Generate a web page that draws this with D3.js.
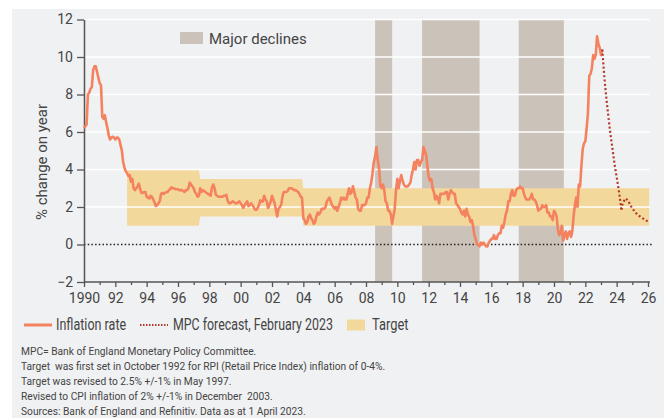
<!DOCTYPE html>
<html>
<head>
<meta charset="utf-8">
<script src="https://cdn.jsdelivr.net/npm/d3@7"></script>
<style>
  body { margin: 0; background: #fff; }
  svg { display: block; }
  text { font-family: Roboto, "Open Sans", sans-serif; fill: #444; }
</style>
</head>
<body>
<div class="chart"></div>
<script>
// RPIX inflation, monthly Jan 1990 - Dec 2003 (% change on year)
var rpix = [
  6.2, 6.3, 6.4, 8.0, 8.1, 8.3, 8.4, 9.3, 9.5, 9.5, 9.2, 8.9,
  8.6, 8.5, 6.8, 6.7, 6.9, 6.5, 6.2, 5.8, 5.6, 5.7, 5.75, 5.7,
  5.6, 5.7, 5.7, 5.6, 5.3, 5.0, 4.4, 4.1, 3.9, 3.8, 3.65, 3.7,
  3.35, 3.5, 3.0, 2.9, 3.0, 3.1, 3.25, 2.95, 2.75, 2.75, 2.8, 2.8,
  2.55, 2.5, 2.45, 2.6, 2.55, 2.4, 2.25, 2.05, 2.1, 2.2, 2.3, 2.7,
  2.75, 2.7, 2.75, 2.8, 2.8, 2.9, 2.95, 3.05, 3.0, 3.0, 2.95, 2.95,
  2.95, 2.9, 2.9, 2.9, 2.85, 2.8, 2.9, 2.9, 3.0, 3.3, 3.2, 3.1,
  3.0, 2.8, 2.7, 2.55, 2.6, 3.0, 2.8, 2.9, 2.85, 2.8, 2.75, 2.7,
  2.65, 2.6, 3.05, 3.2, 3.0, 2.65, 2.6, 2.55, 2.55, 2.55, 2.55, 2.6,
  2.6, 2.65, 2.35, 2.2, 2.2, 2.25, 2.3, 2.25, 2.2, 2.2, 2.25, 2.3,
  2.2, 2.1, 1.95, 2.1, 2.2, 2.3, 2.05, 2.1, 2.2, 2.1, 2.0, 1.85,
  1.85, 1.95, 2.1, 2.35, 2.3, 2.3, 2.6, 2.4, 2.3, 1.95, 2.1, 2.3,
  2.6, 2.4, 2.2, 1.85, 1.5, 1.9, 2.0, 2.1, 2.55, 2.8, 2.8, 2.8,
  2.85, 3.0, 3.0, 3.0, 2.95, 2.9, 2.9, 2.85, 2.8, 2.7, 2.55, 2.5
];
// CPI inflation, monthly Jan 2004 - Feb 2023
var cpi = [
  1.4, 1.3, 1.1, 1.2, 1.5, 1.6, 1.4, 1.3, 1.1, 1.2, 1.5, 1.7,
  1.6, 1.7, 1.9, 1.9, 1.9, 2.0, 2.3, 2.4, 2.5, 2.3, 2.1, 2.0,
  1.9, 2.0, 1.8, 2.0, 2.2, 2.5, 2.4, 2.5, 2.4, 2.4, 2.7, 3.0,
  2.7, 2.8, 3.1, 2.8, 2.5, 2.4, 1.9, 1.8, 1.8, 2.1, 2.1, 2.1,
  2.2, 2.5, 2.5, 3.0, 3.3, 3.8, 4.4, 4.7, 5.2, 4.5, 4.1, 3.1,
  3.0, 3.2, 2.9, 2.3, 2.2, 1.8, 1.8, 1.6, 1.1, 1.5, 1.9, 2.9,
  3.5, 3.0, 3.4, 3.7, 3.4, 3.2, 3.1, 3.1, 3.1, 3.2, 3.3, 3.7,
  4.0, 4.4, 4.0, 4.5, 4.5, 4.2, 4.4, 4.5, 5.2, 5.0, 4.8, 4.2,
  3.6, 3.4, 3.5, 3.0, 2.8, 2.4, 2.6, 2.5, 2.2, 2.7, 2.7, 2.7,
  2.7, 2.8, 2.8, 2.4, 2.7, 2.9, 2.8, 2.7, 2.7, 2.2, 2.1, 2.0,
  1.9, 1.7, 1.6, 1.8, 1.5, 1.9, 1.6, 1.5, 1.2, 1.3, 1.0, 0.5,
  0.3, 0.0, 0.0, -0.1, 0.1, 0.0, 0.1, 0.0, -0.1, -0.1, 0.1, 0.2,
  0.3, 0.3, 0.5, 0.3, 0.3, 0.5, 0.6, 0.6, 1.0, 0.9, 1.2, 1.6,
  1.8, 2.3, 2.3, 2.7, 2.9, 2.6, 2.6, 2.9, 3.0, 3.0, 3.1, 3.0,
  3.0, 2.7, 2.5, 2.4, 2.4, 2.4, 2.5, 2.7, 2.4, 2.4, 2.3, 2.1,
  1.8, 1.9, 1.9, 2.1, 2.0, 2.0, 2.1, 1.7, 1.7, 1.5, 1.5, 1.3,
  1.8, 1.7, 1.5, 0.8, 0.5, 0.6, 1.0, 0.2, 0.5, 0.7, 0.3, 0.6,
  0.7, 0.4, 0.7, 1.5, 2.1, 2.5, 2.0, 3.2, 3.1, 4.2, 5.1, 5.4,
  5.5, 6.2, 7.0, 9.0, 9.1, 9.4, 10.1, 9.9, 10.1, 11.1, 10.7, 10.5,
  10.1, 10.4
];
// MPC forecast, February 2023
var forecastYears = [2023.08, 2023.18, 2023.27, 2023.4, 2023.57, 2023.74, 2023.89, 2024.03, 2024.16, 2024.25,
                     2024.3, 2024.38, 2024.57, 2024.74, 2024.84, 2024.99, 2025.31, 2025.76, 2026.0];
var forecastValues = [10.4, 9.3, 8.4, 7.35, 6.1, 5.05, 4.15, 3.45, 2.75, 2.2,
                      1.8, 2.2, 2.46, 2.34, 2.16, 1.93, 1.6, 1.34, 1.22];
// inflation target ranges
var targetYears = [1992.75, 1997.33, 1997.42, 2003.92, 2004.0, 2026.08];
var targetLow = [1, 1, 1.5, 1.5, 1, 1];
var targetHigh = [4, 4, 3.5, 3.5, 3, 3];
// major declines
var declineStart = [2008.58, 2011.58, 2017.75];
var declineEnd = [2009.67, 2015.25, 2020.63];

var yTicks = [-2, 0, 2, 4, 6, 8, 10, 12];
var gridTicks = [2, 4, 6, 8, 10, 12];
var xYears = d3.range(1990, 2027);

var notes = [
  "MPC= Bank of England Monetary Policy Committee.",
  "Target  was first set in October 1992 for RPI (Retail Price Index) inflation of 0-4%.",
  "Target was revised to 2.5% +/-1% in May 1997.",
  "Revised to CPI inflation of 2% +/-1% in December  2003.",
  "Sources: Bank of England and Refinitiv. Data as at 1 April 2023."
];

var colLine = "#f4825f", colFc = "#b5362b", colTarget = "#f3d89c", colDecl = "#cbc3b9";

var margin = {top: 19.5, left: 84},
    width = 564,
    height = 262.5;

var root = d3.select(".chart")
  .append("svg")
    .attr("width", 664)
    .attr("height", 418);

// panel background
root.append("rect")
    .attr("x", 12).attr("y", 9)
    .attr("width", 652).attr("height", 409)
    .attr("fill", "#f0f1f3");

var svg = root.append("g")
    .attr("transform", "translate(" + margin.left + "," + margin.top + ")");

var x = d3.scaleLinear().domain([1990, 2026]).range([0, width]);
var y = d3.scaleLinear().domain([-2, 12]).range([height, 0]);

// major declines
svg.selectAll(".decline")
  .data(declineStart)
  .enter().append("rect")
    .attr("class", "decline")
    .attr("x", function(d) { return x(d); })
    .attr("y", y(12))
    .attr("width", function(d, i) { return x(declineEnd[i]) - x(d); })
    .attr("height", y(-2) - y(12))
    .attr("fill", colDecl);

// target band
var target = targetYears.map(function(t, i) { return {year: t, lo: targetLow[i], hi: targetHigh[i]}; });
svg.append("path")
    .datum(target)
    .attr("fill", colTarget)
    .attr("d", d3.area()
      .x(function(d) { return x(d.year); })
      .y0(function(d) { return y(d.lo); })
      .y1(function(d) { return y(d.hi); }));

// gridlines
svg.selectAll(".grid")
  .data(gridTicks)
  .enter().append("line")
    .attr("class", "grid")
    .attr("x1", 0).attr("x2", width + 2)
    .attr("y1", function(d) { return y(d); })
    .attr("y2", function(d) { return y(d); })
    .attr("stroke", "#fff")
    .attr("stroke-width", 1.3);

// zero line
svg.append("line")
    .attr("x1", 0).attr("x2", width + 5)
    .attr("y1", y(0)).attr("y2", y(0))
    .attr("stroke", "#222")
    .attr("stroke-width", 1.5)
    .attr("stroke-dasharray", "1.5,2.2");

// axes
var yaxis = d3.axisLeft(y).tickValues(yTicks).tickSize(7).tickSizeOuter(0).tickPadding(4);
var gy = svg.append("g").attr("class", "y axis").call(yaxis);

var xaxis = d3.axisBottom(x).tickValues(xYears).tickSize(3).tickSizeOuter(0).tickPadding(8)
    .tickFormat(function(d) {
      if (d === 1990) return "1990";
      return d % 2 ? "" : String(d % 100).padStart(2, "0");
    });
var gx = svg.append("g")
    .attr("class", "x axis")
    .attr("transform", "translate(0," + height + ")")
    .call(xaxis);
gx.selectAll(".tick line")
    .attr("y2", function(d) { return d % 2 ? 3 : 5; });

svg.selectAll(".axis .domain").attr("stroke", "#555").attr("stroke-width", 1.5);
svg.selectAll(".axis .tick line").attr("stroke", "#555").attr("stroke-width", 1.3);
svg.selectAll(".axis text").style("font-size", "14px").attr("fill", "#444").style("font-family", "Roboto, sans-serif");
gx.select(".domain").attr("d", "M0,0H" + (width + 2));

// y label
root.append("text")
    .attr("transform", "translate(47,162) rotate(-90)")
    .attr("text-anchor", "middle")
    .style("font-size", "15px")
    .text("% change on year");

// inflation line
var series = rpix.concat(cpi).map(function(v, i) { return {year: 1990 + i / 12, value: v}; });
var line = d3.line()
    .x(function(d) { return x(d.year); })
    .y(function(d) { return y(d.value); });
svg.append("path")
    .datum(series)
    .attr("fill", "none")
    .attr("stroke", colLine)
    .attr("stroke-width", 2.6)
    .attr("stroke-linejoin", "round")
    .attr("d", line);

// forecast
var fc = forecastYears.map(function(t, i) { return {year: t, value: forecastValues[i]}; });
svg.append("path")
    .datum(fc)
    .attr("fill", "none")
    .attr("stroke", colFc)
    .attr("stroke-width", 2.2)
    .attr("stroke-dasharray", "2,2.3")
    .attr("d", line);

// top legend
root.append("rect").attr("x", 180).attr("y", 32).attr("width", 23).attr("height", 12).attr("fill", colDecl);
root.append("text").attr("x", 209).attr("y", 44).style("font-size", "15px").text("Major declines");

// bottom legend (condensed type, squeezed horizontally)
function narrowText(sel, tx, ty, size, sx, str) {
  return sel.append("text")
      .attr("transform", "translate(" + tx + "," + ty + ") scale(" + sx + ",1)")
      .style("font-size", size + "px")
      .style("white-space", "pre")
      .text(str);
}
var lg = root.append("g").attr("class", "legend");
lg.append("line").attr("x1", 24).attr("x2", 52).attr("y1", 325).attr("y2", 325)
    .attr("stroke", colLine).attr("stroke-width", 3);
narrowText(lg, 56, 330, 16.5, 0.76, "Inflation rate").attr("fill", "#333");
lg.append("line").attr("x1", 140).attr("x2", 168).attr("y1", 325).attr("y2", 325)
    .attr("stroke", colFc).attr("stroke-width", 2).attr("stroke-dasharray", "1.5,1.5");
narrowText(lg, 173, 330, 16.5, 0.75, "MPC forecast, February 2023").attr("fill", "#333");
lg.append("rect").attr("x", 347).attr("y", 319.5).attr("width", 18).attr("height", 11).attr("fill", colTarget);
narrowText(lg, 372, 330, 16.5, 0.78, "Target").attr("fill", "#333");

// footnotes
notes.forEach(function(n, i) {
  narrowText(root, 21, 355 + i * 15, 11.5, 0.89, n).attr("fill", "#3a3a3a");
});
</script>
</body>
</html>
